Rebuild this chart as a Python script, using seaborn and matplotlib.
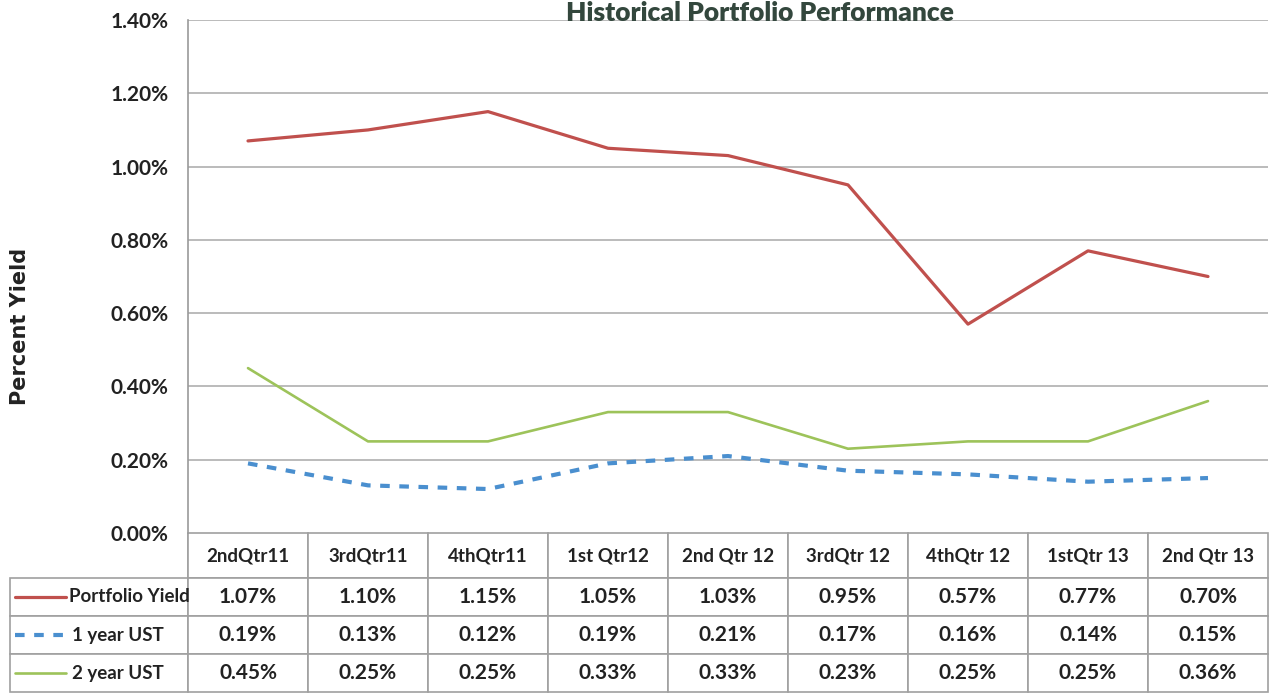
import pandas as pd
import matplotlib
matplotlib.use("Agg")
import matplotlib.pyplot as plt
import seaborn as sns
from matplotlib.table import Table
from matplotlib.lines import Line2D

sns.set_theme(style="white")
plt.rcParams["font.family"] = ["Lato", "DejaVu Sans"]

# Dados
trimestres = ["2ndQtr11", "3rdQtr11", "4thQtr11", "1st Qtr12", "2nd Qtr 12",
              "3rdQtr 12", "4thQtr 12", "1stQtr 13", "2nd Qtr 13"]
portfolio_yield = [1.07, 1.10, 1.15, 1.05, 1.03, 0.95, 0.57, 0.77, 0.70]
ust_1y = [0.19, 0.13, 0.12, 0.19, 0.21, 0.17, 0.16, 0.14, 0.15]
ust_2y = [0.45, 0.25, 0.25, 0.33, 0.33, 0.23, 0.25, 0.25, 0.36]
series_names = ["Portfolio Yield", "1 year UST", "2 year UST"]
y_ticks = [0.0, 0.2, 0.4, 0.6, 0.8, 1.0, 1.2, 1.4]

cores = {"Portfolio Yield": "#C0504D", "1 year UST": "#4A8FCF", "2 year UST": "#9DC35A"}
estilos = {"Portfolio Yield": dict(lw=2.3),
           "1 year UST": dict(lw=3.0, dashes=(2.3, 2.3)),
           "2 year UST": dict(lw=1.9)}

df = pd.DataFrame({"pos": range(len(trimestres)),
                   "Portfolio Yield": portfolio_yield,
                   "1 year UST": ust_1y,
                   "2 year UST": ust_2y})
df_long = df.melt(id_vars="pos", var_name="serie", value_name="yield")

W, H = 1270, 694
fig = plt.figure(figsize=(W / 100, H / 100), dpi=100)
ax_l, ax_r, ax_t, ax_b = 188, 1268, 20, 533
ax = fig.add_axes([ax_l / W, 1 - ax_b / H, (ax_r - ax_l) / W, (ax_b - ax_t) / H])

for nome in series_names:
    sub = df_long[df_long["serie"] == nome]
    est = estilos[nome]
    sns.lineplot(data=sub, x="pos", y="yield", color=cores[nome],
                 linewidth=est["lw"], ax=ax, legend=False)
    if "dashes" in est:
        ax.lines[-1].set_dashes(est["dashes"])

ax.set_xlim(-0.5, len(trimestres) - 0.5)
ax.set_ylim(0, 1.4)
ax.set_yticks(y_ticks)
ax.set_yticklabels([f"{v:.2f}%" for v in y_ticks], fontsize=15, fontweight="bold",
                   color="#222222")
ax.tick_params(axis="y", length=5, color="#9A9A9A", pad=9)
ax.set_xticks([])
ax.set_xlabel("")
ax.set_ylabel("")
for v in y_ticks[1:]:
    ax.axhline(v, color="#A8A8A8", lw=1.1, zorder=0)
for s in ["top", "right", "bottom"]:
    ax.spines[s].set_visible(False)
ax.spines["left"].set_color("#9A9A9A")
ax.spines["left"].set_linewidth(1.2)

fig.text(20 / W, 1 - 326 / H, "Percent Yield", rotation=90, ha="center", va="center",
         fontsize=15, fontweight="bold", family="DejaVu Sans", color="#222222")
fig.text(760 / W, 1 - 1 / H, "Historical Portfolio Performance", ha="center", va="top",
         fontsize=19, fontweight="heavy", color="#33473D")

# Tabela de dados abaixo do gráfico
tab_l, tab_t, tab_b = 10, 533, 692
label_w, col_w = ax_l - tab_l, 120
head_h, row_h = 45, (tab_b - tab_t - 45) / 3
axw, axh = ax_r - ax_l, ax_b - ax_t
tbl = Table(ax, bbox=[-(label_w) / axw, -(tab_b - tab_t) / axh,
                      (label_w + col_w * len(trimestres)) / axw, (tab_b - tab_t) / axh])
valores = [portfolio_yield, ust_1y, ust_2y]
for c in range(len(trimestres) + 1):
    cell = tbl.add_cell(0, c, label_w if c == 0 else col_w, head_h,
                        text="" if c == 0 else trimestres[c - 1], loc="center")
    if c == 0:
        cell.visible_edges = "R"
    for r in range(3):
        txt = "" if c == 0 else f"{valores[r][c - 1]:.2f}%"
        tbl.add_cell(r + 1, c, label_w if c == 0 else col_w, row_h, text=txt, loc="center")
tbl.auto_set_font_size(False)
for (r, c), cell in tbl.get_celld().items():
    cell.set_edgecolor("#A0A0A0")
    cell.set_linewidth(1.2)
    cell.get_text().set_fontsize(13.5 if r == 0 else 15)
    cell.get_text().set_fontweight("bold")
    cell.get_text().set_color("#222222")
ax.add_table(tbl)

for i, nome in enumerate(series_names):
    yc = 1 - (tab_t + head_h + row_h * (i + 0.5)) / H
    est = estilos[nome]
    ln = Line2D([15 / W, 66 / W], [yc, yc], transform=fig.transFigure,
                color=cores[nome], lw=est["lw"])
    if "dashes" in est:
        ln.set_dashes(est["dashes"])
    fig.add_artist(ln)
    fig.text((69 if i == 0 else 72) / W, yc, nome, ha="left", va="center",
             fontsize=13.5, fontweight="bold", color="#222222")

plt.savefig("out.png", dpi=100)
plt.close()
